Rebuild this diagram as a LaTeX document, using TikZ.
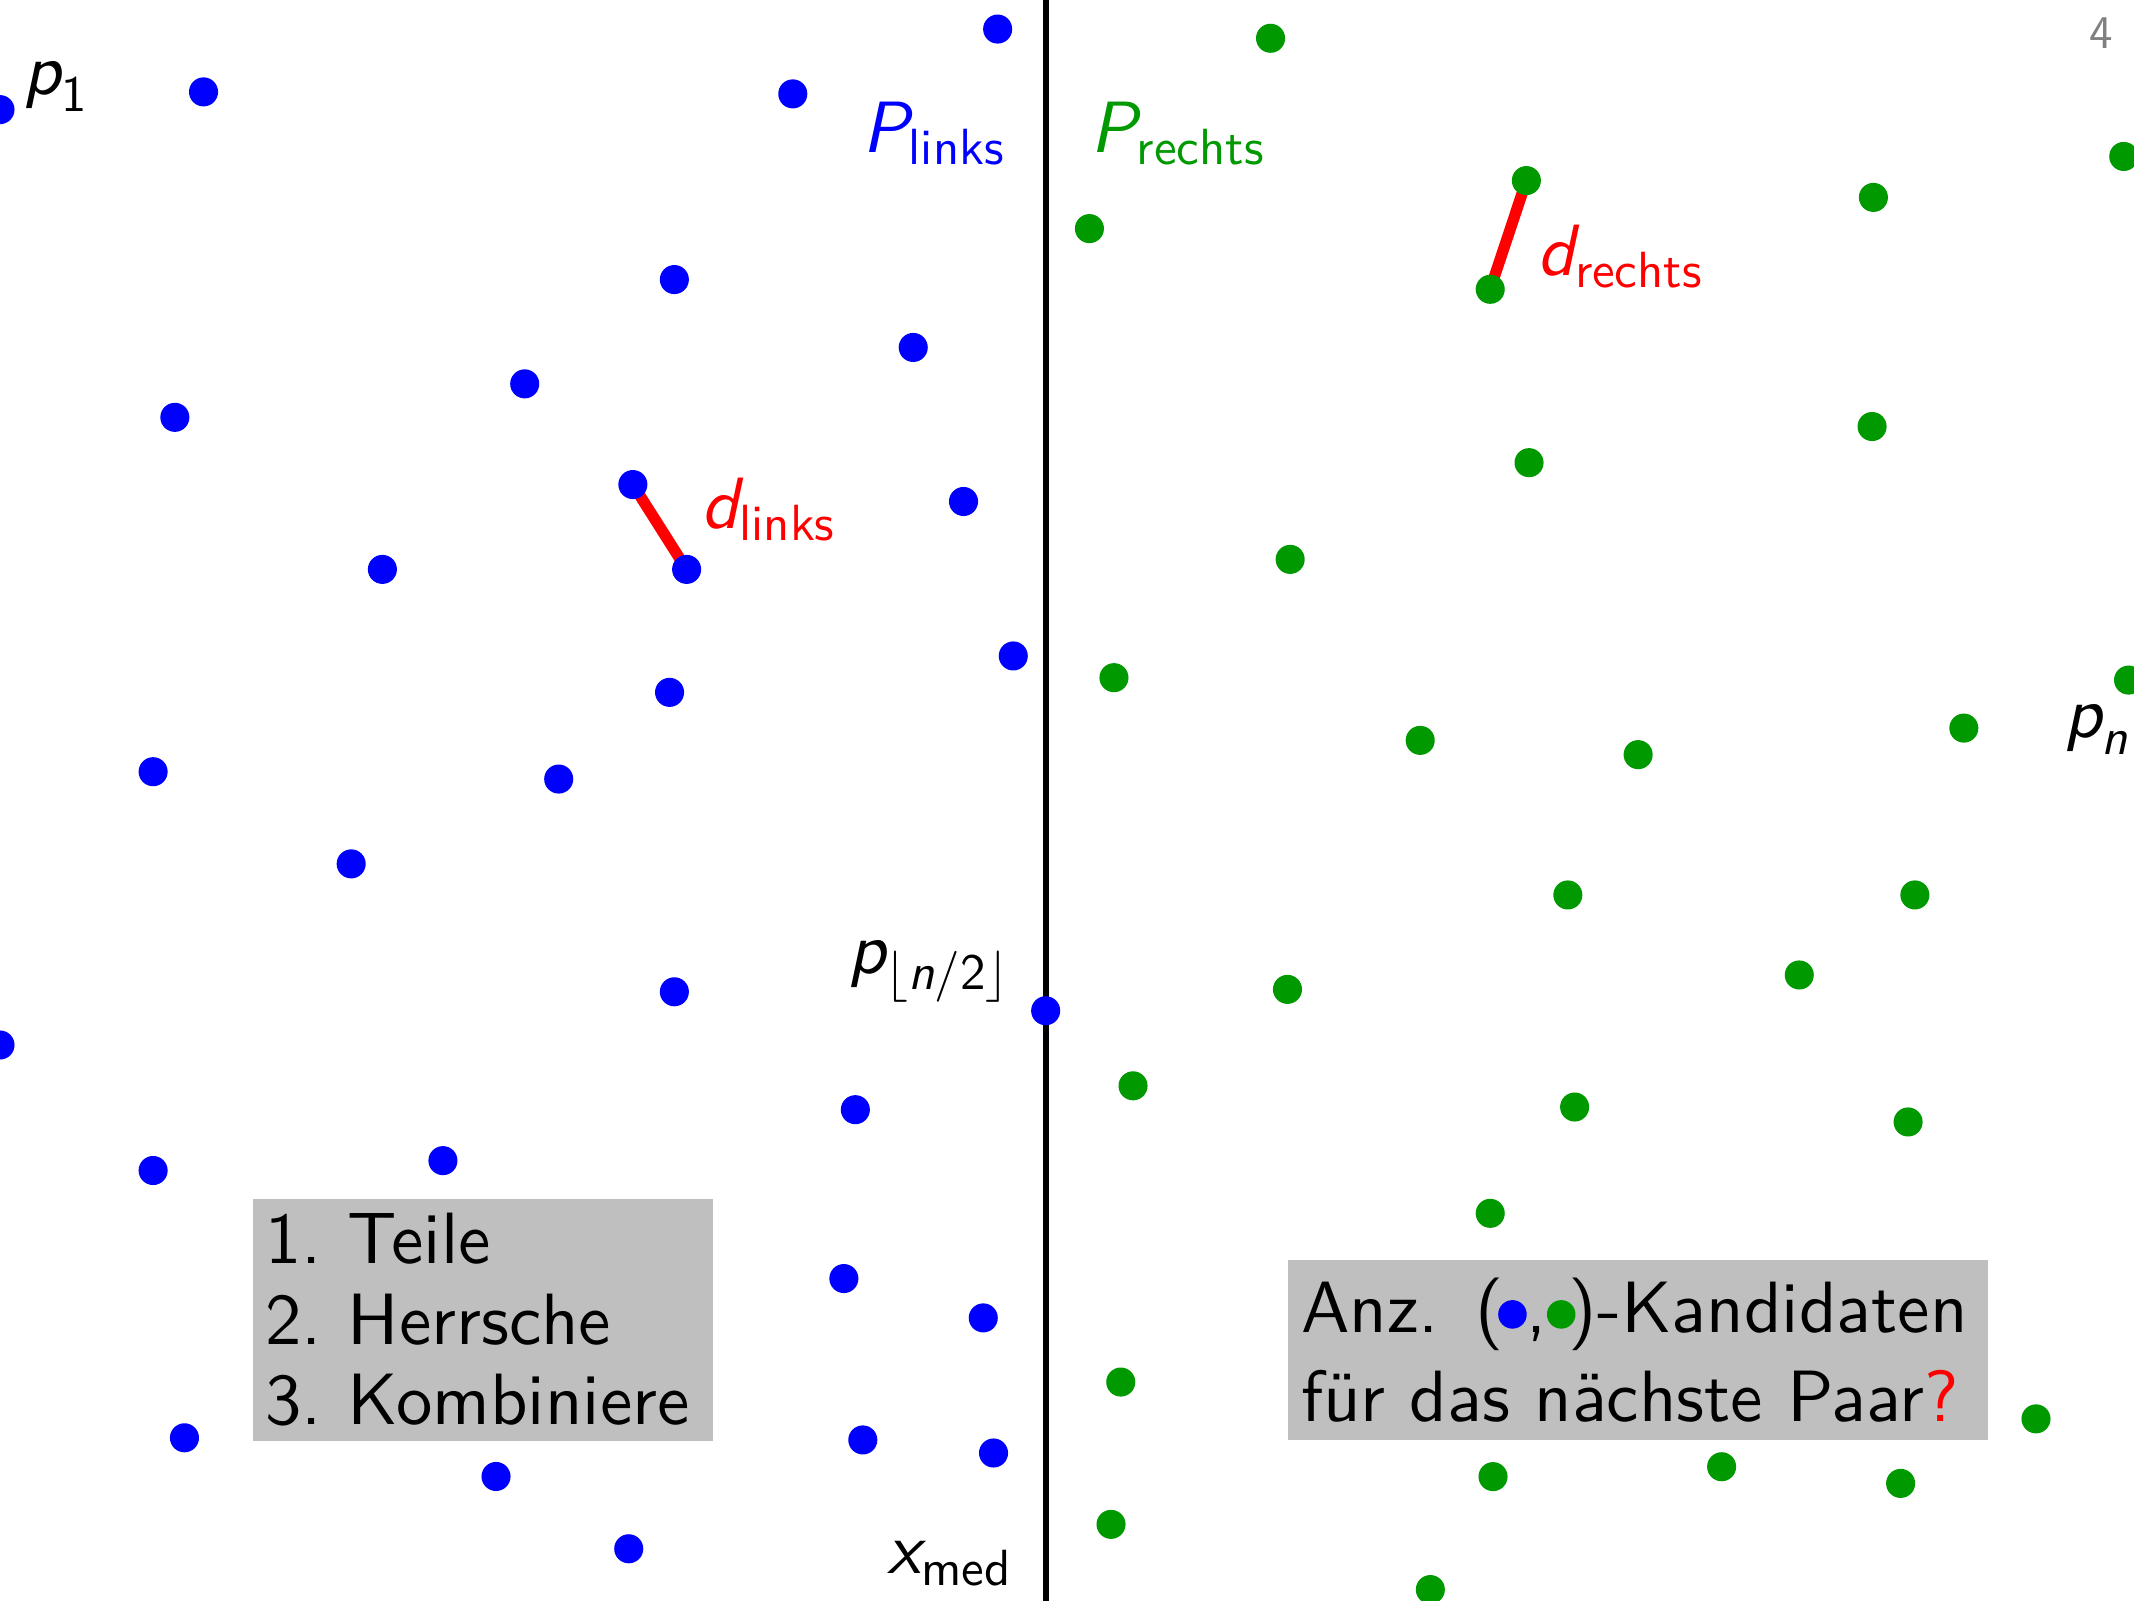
\documentclass[tikz,border=0pt]{standalone}
\usepackage{amsmath}
\usepackage{fontspec}
\setsansfont{lmsans10-regular.otf}[SlantedFont=lmsans10-oblique.otf, ItalicFont=lmsans10-oblique.otf, BoldFont=lmsans10-bold.otf]
\usepackage{tikz}
\definecolor{ptblue}{RGB}{0,0,255}
\definecolor{ptgreen}{RGB}{0,153,0}
\definecolor{boxgray}{RGB}{191,191,191}
\newcommand{\bluedot}{\tikz[baseline=-0.137cm] \fill [ptblue] (0,0) circle (0.107);}
\newcommand{\greendot}{\tikz[baseline=-0.137cm] \fill [ptgreen] (0,0) circle (0.107);}

\begin{document}
\begin{tikzpicture}[font=\sffamily\fontsize{15.5}{17.5}\selectfont]
\tikzstyle{every node}+=[inner sep=0pt]
\tikzstyle{gbox}=[fill=boxgray, anchor=north west, align=left]
\tikzstyle{dline}=[red, line width=2.4pt]
\useasboundingbox (0,0) rectangle (16,12);
\clip (0,0) rectangle (16,12);
\foreach \n/\x/\y in {b1/0.000/11.178, b2/1.526/11.311, b3/5.944/11.296, b4/7.480/11.782,
  b5/5.056/9.904, b6/6.847/9.395, b7/3.934/9.122, b8/1.311/8.871, b9/4.745/8.367,
  b10/5.148/7.731, b11/7.224/8.240, b12/2.867/7.731, b13/7.597/7.082, b14/5.020/6.809,
  b15/1.148/6.214, b16/4.189/6.159, b17/2.633/5.523, b18/5.056/4.564, b19/0.000/4.165,
  b20/7.840/4.422, b21/6.413/3.680, b22/1.148/3.224, b23/3.321/3.298, b24/6.327/2.414,
  b25/7.372/2.119, b26/1.383/1.220, b27/3.719/0.930, b28/6.469/1.204, b29/7.449/1.106,
  b30/4.714/0.388}
  \coordinate (\n) at (\x,\y);
\foreach \n/\x/\y in {g1/9.526/11.713, g2/8.168/10.286, g3/11.444/10.646, g4/11.173/9.831,
  g5/14.046/10.520, g6/15.923/10.827, g7/14.036/8.802, g8/11.464/8.531, g9/9.673/7.806,
  g10/8.352/6.919, g11/10.648/6.449, g12/12.282/6.342, g13/14.724/6.541, g14/15.959/6.901,
  g15/11.755/5.290, g16/14.357/5.290, g17/9.653/4.582, g18/13.490/4.690, g19/8.495/3.859,
  g20/11.806/3.700, g21/14.306/3.588, g22/11.173/2.903, g23/8.403/1.638, g24/15.265/1.362,
  g25/11.194/0.929, g26/12.908/1.003, g27/14.250/0.878, g28/8.330/0.571, g29/10.724/0.082}
  \coordinate (\n) at (\x,\y);
\coordinate (mtop) at (7.840,12);
\coordinate (mbot) at (7.840,0);
\draw [black, line width=1.3pt] (mbot) -- (mtop);
\draw [dline] (b9) -- (b10);
\draw [dline] (g3) -- (g4);
\foreach \i in {1,...,30}
  \fill [ptblue] (b\i) circle (0.109);
\foreach \i in {1,...,29}
  \fill [ptgreen] (g\i) circle (0.109);
\node [anchor=base west] (lp1) at (0.17,11.292) {$\textsl{p}_{\text{1}}$};
\node [anchor=base east, ptblue] (lPl) at (7.55,10.86) {$\textsl{P}_{\text{links}}$};
\node [anchor=base west, ptgreen] (lPr) at (8.168,10.86) {$\textsl{P}_{\text{rechts}}$};
\node [anchor=base west, red] (ldl) at (5.255,8.04) {$\textsl{d}_{\text{links}}$};
\node [anchor=base west, red] (ldr) at (11.52,9.935) {$\textsl{d}_{\text{rechts}}$};
\node [anchor=base east] (lmed) at (7.587,4.704) {$\textsl{p}_{\lfloor\text{\textsl{n}/2}\rfloor}$};
\node [anchor=base east] (lx) at (7.60,0.206) {$\textsl{x}_{\text{med}}$};
\node [anchor=base west] (lpn) at (15.47,6.47) {$\textsl{p}_{\text{\textsl{n}}}$};
\node [gray, font=\sffamily\fontsize{10}{12}\selectfont] (pg) at (15.755,11.755) {4};
\node [gbox, minimum width=3.449cm, minimum height=1.816cm, inner sep=0.092cm, text width=3.265cm,
  font=\sffamily\fontsize{15.5}{17.15}\selectfont] (steps) at (1.888,3.02)
  {\makebox[0.622cm][l]{1.}Teile\\\makebox[0.622cm][l]{2.}Herrsche\\\makebox[0.622cm][l]{3.}Kombiniere};
\node [gbox, minimum width=5.25cm, minimum height=1.353cm, inner sep=0.1cm, text width=5.05cm,
  font=\sffamily\fontsize{15.5}{18.9}\selectfont] (frage) at (9.648,2.561)
  {Anz. (\hspace{-0.04cm}\bluedot,\greendot\hspace{-0.05cm})-Kandidaten\\f\"ur das n\"achste Paar\textcolor{red}{?}};
\end{tikzpicture}
\end{document}
